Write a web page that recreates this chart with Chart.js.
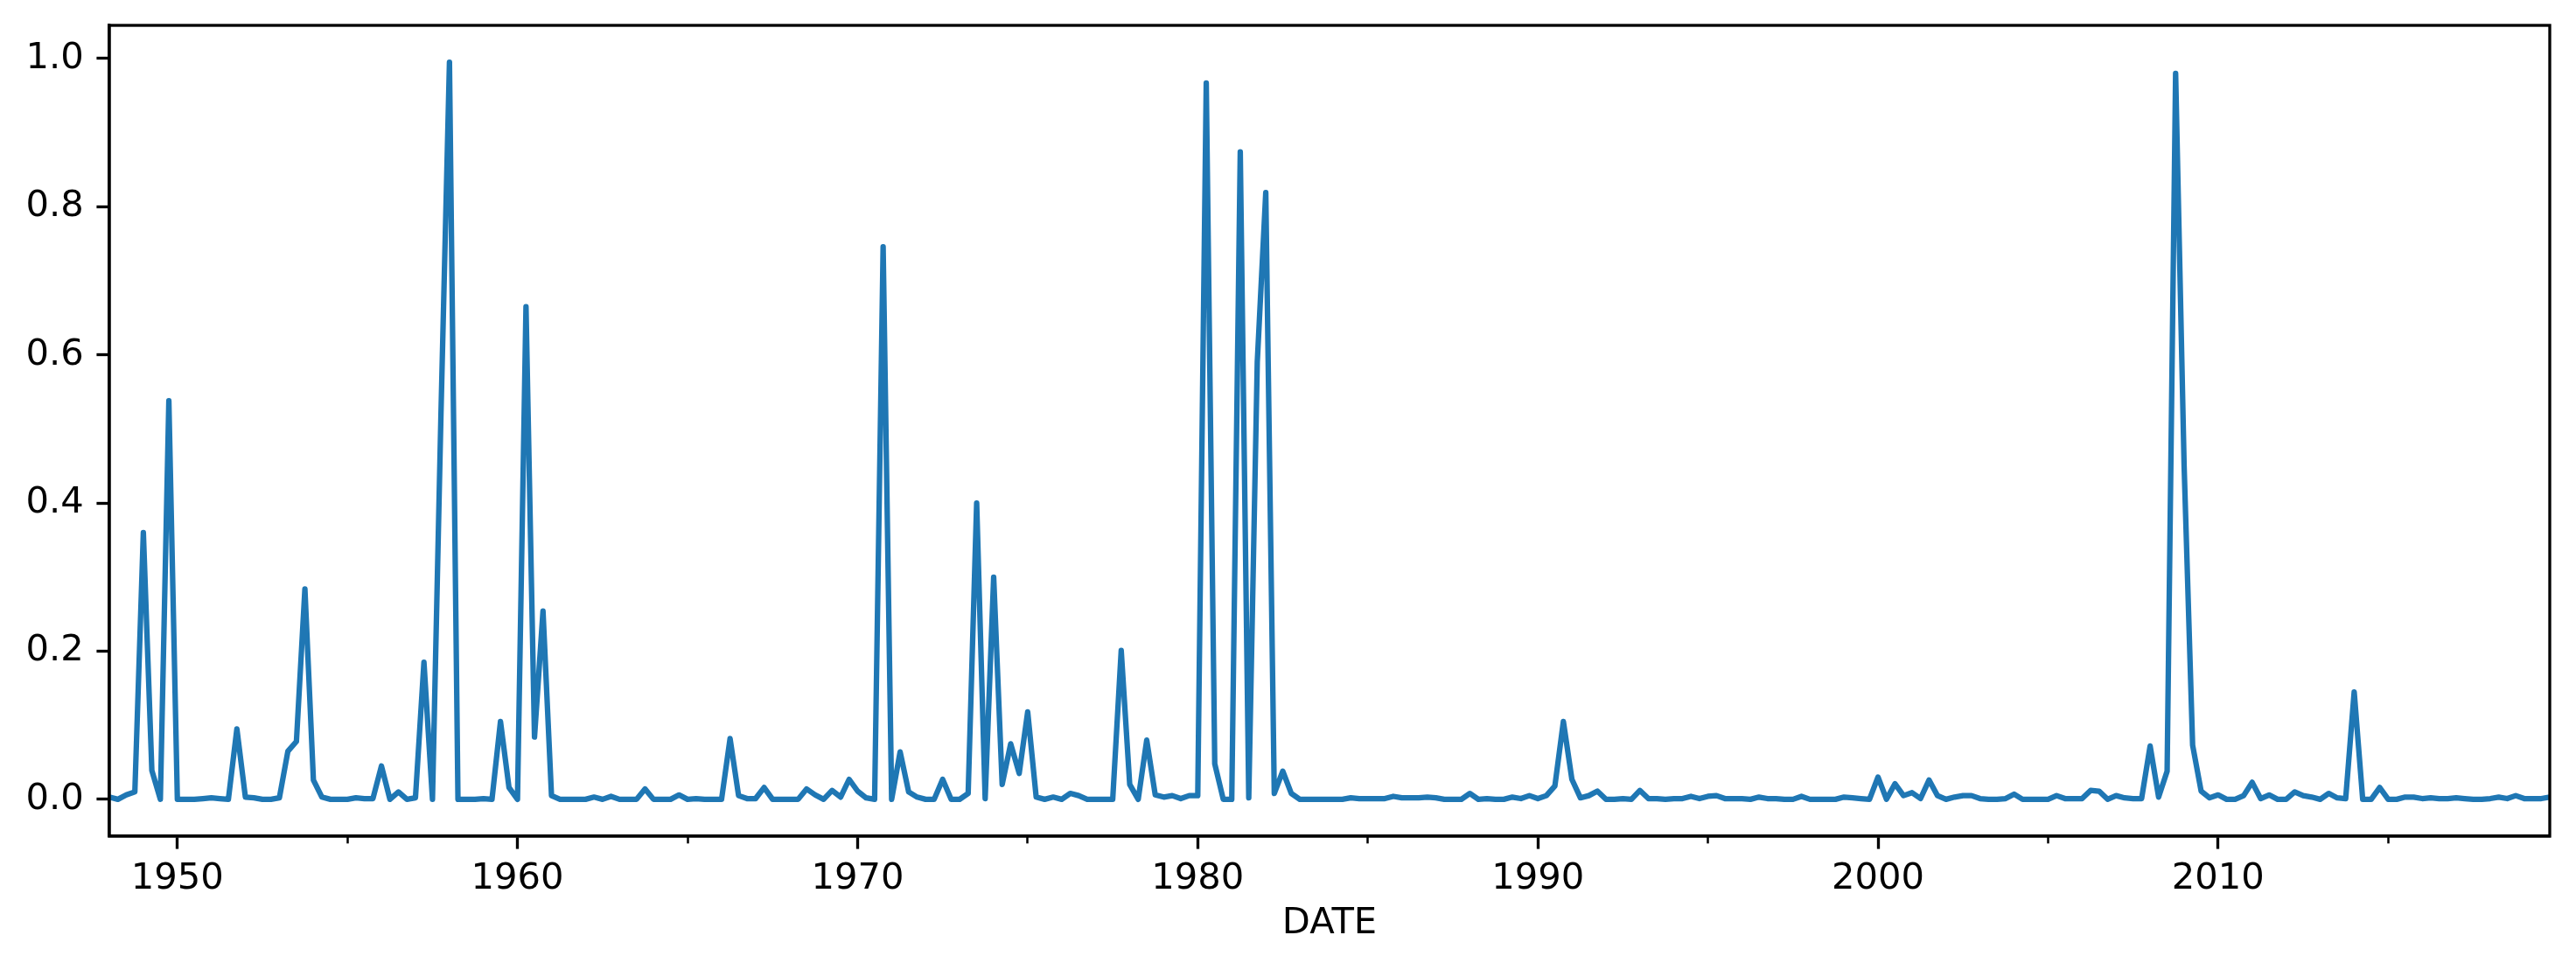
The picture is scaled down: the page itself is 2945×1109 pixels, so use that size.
<!DOCTYPE html>
<html>
<head>
<meta charset="utf-8">
<script src="https://cdn.jsdelivr.net/npm/chart.js@4/dist/chart.umd.min.js"></script>
<style>
  html, body { margin: 0; padding: 0; background: #ffffff; }
  canvas { display: block; }
</style>
</head>
<body>
<canvas id="c" width="2945" height="1109" style="width:2945px;height:1109px"></canvas>
<script>
// ---- data (quarterly, 1948Q1 .. 2019Q4) ----
const firstYear = 1948;
const lastYear = 2019;
const quarterNames = ['Q1', 'Q2', 'Q3', 'Q4'];

const probability = [
  0.003, 0.0,   0.006, 0.010, 0.360, 0.039, 0.0,   0.538,
  0.0,   0.0,   0.0,   0.001, 0.002, 0.001, 0.0,   0.095,
  0.003, 0.002, 0.0,   0.0,   0.002, 0.065, 0.078, 0.284,
  0.026, 0.003, 0.0,   0.0,   0.0,   0.002, 0.001, 0.001,
  0.045, 0.0,   0.010, 0.0,   0.002, 0.185, 0.0,   0.52,
  0.995, 0.0,   0.0,   0.0,   0.001, 0.0,   0.105, 0.016,
  0.0,   0.665, 0.084, 0.254, 0.005, 0.0,   0.0,   0.0,
  0.0,   0.003, 0.0,   0.004, 0.0,   0.0,   0.0,   0.014,
  0.0,   0.0,   0.0,   0.006, 0.0,   0.001, 0.0,   0.0,
  0.0,   0.082, 0.005, 0.001, 0.001, 0.016, 0.0,   0.0,
  0.0,   0.0,   0.014, 0.006, 0.0,   0.012, 0.003, 0.027,
  0.011, 0.002, 0.0,   0.746, 0.0,   0.064, 0.010, 0.003,
  0.0,   0.0,   0.027, 0.0,   0.0,   0.008, 0.400, 0.001,
  0.300, 0.020, 0.075, 0.035, 0.118, 0.003, 0.0,   0.003,
  0.0,   0.008, 0.005, 0.0,   0.0,   0.0,   0.0,   0.201,
  0.020, 0.0,   0.080, 0.006, 0.003, 0.005, 0.001, 0.005,
  0.005, 0.967, 0.048, 0.0,   0.0,   0.874, 0.002, 0.590,
  0.819, 0.008, 0.038, 0.008, 0.0,   0.0,   0.0,   0.0,
  0.0,   0.0,   0.002, 0.001, 0.001, 0.001, 0.001, 0.004,
  0.002, 0.002, 0.002, 0.003, 0.002, 0.0,   0.0,   0.0,
  0.008, 0.0,   0.001, 0.0,   0.0,   0.003, 0.001, 0.005,
  0.001, 0.005, 0.018, 0.105, 0.027, 0.002, 0.005, 0.011,
  0.0,   0.0,   0.001, 0.0,   0.012, 0.001, 0.001, 0.0,
  0.001, 0.001, 0.004, 0.001, 0.004, 0.005, 0.001, 0.001,
  0.001, 0.0,   0.003, 0.001, 0.001, 0.0,   0.0,   0.004,
  0.0,   0.0,   0.0,   0.0,   0.003, 0.002, 0.001, 0.0,
  0.030, 0.0,   0.021, 0.005, 0.009, 0.001, 0.026, 0.005,
  0.0,   0.003, 0.005, 0.005, 0.001, 0.0,   0.0,   0.001,
  0.007, 0.0,   0.0,   0.0,   0.0,   0.005, 0.001, 0.001,
  0.001, 0.012, 0.011, 0.0,   0.005, 0.002, 0.001, 0.001,
  0.072, 0.003, 0.038, 0.980, 0.450, 0.073, 0.011, 0.002,
  0.006, 0.0,   0.0,   0.005, 0.023, 0.001, 0.006, 0.0,
  0.0,   0.010, 0.005, 0.003, 0.0,   0.008, 0.002, 0.001,
  0.145, 0.0,   0.0,   0.016, 0.0,   0.0,   0.003, 0.003,
  0.001, 0.002, 0.001, 0.001, 0.002, 0.001, 0.0,   0.0,
  0.001, 0.003, 0.001, 0.005, 0.001, 0.001, 0.001, 0.003
];

const xMajorTicks = [1950, 1960, 1970, 1980, 1990, 2000, 2010];
const xMinorTicks = [1955, 1965, 1975, 1985, 1995, 2005, 2015];
const yTicks = [0.0, 0.2, 0.4, 0.6, 0.8, 1.0];
const xAxisTitle = 'DATE';

// ---- build quarter categories and points ----
const quarters = [];
for (let y = firstYear; y <= lastYear; y++) {
  for (let q = 0; q < 4; q++) quarters.push({ label: y + quarterNames[q], pos: y + q / 4 });
}
const points = probability.map((v, i) => ({ x: quarters[i].pos, y: v }));

// ---- styling (matplotlib look at 300 dpi) ----
const PT = 300 / 72;
const FONT = { family: 'DejaVu Sans', size: 10 * PT, lineHeight: 1.2 };
const BLACK = '#000000';
const xMin = quarters[0].pos;
const xMax = quarters[quarters.length - 1].pos;
const yLo = -0.04975, yHi = 1.04475;

const noPad = s => { s.paddingTop = 0; s.paddingBottom = 0; s.paddingLeft = 0; s.paddingRight = 0; };

const frame = {
  id: 'frame',
  afterDatasetsDraw(chart) {
    const { ctx, chartArea: a } = chart;
    ctx.save();
    ctx.strokeStyle = BLACK;
    ctx.lineWidth = 0.8 * PT;
    ctx.lineJoin = 'miter';
    ctx.strokeRect(a.left, a.top, a.right - a.left, a.bottom - a.top);
    ctx.restore();
  }
};

new Chart(document.getElementById('c'), {
  type: 'line',
  data: {
    datasets: [{
      label: 'prob',
      data: points,
      borderColor: '#1f77b4',
      borderWidth: 1.5 * PT,
      pointRadius: 0,
      pointHoverRadius: 0,
      tension: 0,
      fill: false,
      borderJoinStyle: 'round',
      borderCapStyle: 'butt'
    }]
  },
  options: {
    responsive: false,
    devicePixelRatio: 1,
    animation: false,
    events: [],
    layout: { autoPadding: false, padding: { left: 0, top: 29, right: 30, bottom: 0 } },
    plugins: { legend: { display: false }, tooltip: { enabled: false } },
    scales: {
      xMinor: {
        type: 'linear', position: 'bottom', axis: 'x', weight: 0,
        min: xMin, max: xMax,
        afterBuildTicks: s => { s.ticks = xMinorTicks.map(v => ({ value: v })); },
        afterFit: s => { s.height = 0; noPad(s); },
        ticks: { display: false },
        grid: { drawOnChartArea: false, drawTicks: true, tickLength: 2 * PT, tickWidth: 0.6 * PT, tickColor: BLACK },
        border: { display: false }
      },
      x: {
        type: 'linear', position: 'bottom', weight: 1,
        min: xMin, max: xMax,
        afterBuildTicks: s => { s.ticks = xMajorTicks.map(v => ({ value: v })); },
        afterFit: s => { s.height = 153; noPad(s); },
        ticks: {
          color: BLACK, font: FONT, padding: 10, maxRotation: 0, autoSkip: false,
          callback: v => String(v)
        },
        grid: { drawOnChartArea: false, drawTicks: true, tickLength: 3.5 * PT, tickWidth: 0.8 * PT, tickColor: BLACK },
        border: { display: true, color: BLACK, width: 0.8 * PT },
        title: { display: true, text: xAxisTitle, color: BLACK, font: FONT, padding: { top: 0, bottom: 28 } }
      },
      y: {
        type: 'linear', position: 'left',
        min: yLo, max: yHi,
        afterBuildTicks: s => { s.ticks = yTicks.map(v => ({ value: v })); },
        afterFit: s => { s.width = 125; noPad(s); },
        ticks: {
          color: BLACK, font: FONT, padding: 3.5 * PT, autoSkip: false,
          callback: v => Number(v).toFixed(1)
        },
        grid: { drawOnChartArea: false, drawTicks: true, tickLength: 3.5 * PT, tickWidth: 0.8 * PT, tickColor: BLACK },
        border: { display: true, color: BLACK, width: 0.8 * PT }
      }
    }
  },
  plugins: [frame]
});
</script>
</body>
</html>
